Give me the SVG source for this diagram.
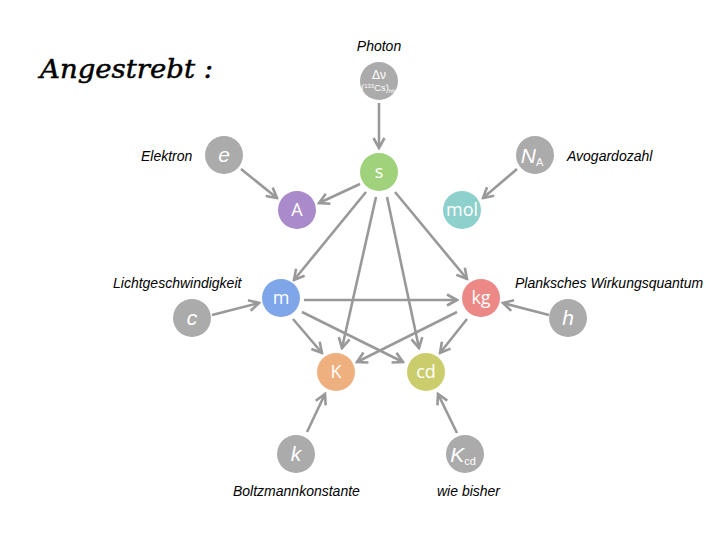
<svg xmlns="http://www.w3.org/2000/svg" width="720" height="540" viewBox="0 0 720 540">
<style>
.lbl{font-family:"Liberation Sans",Arial,sans-serif;font-style:italic;font-size:14px;fill:#000}
.nl{font-family:"Open Sans","Liberation Sans",sans-serif;font-size:18px;fill:#fff;text-anchor:middle}
.gl{font-family:"Liberation Sans",sans-serif;font-style:italic;font-size:21px;fill:#fff;text-anchor:middle}
.g{fill:#ababab}
.e{stroke:#999;stroke-width:2.6;fill:none;marker-end:url(#ah)}
</style>
<defs>
<marker id="ah" markerUnits="userSpaceOnUse" viewBox="0 0 14 14" markerWidth="14" markerHeight="14" refX="12" refY="7" orient="auto">
<path d="M2,1.5 L12,7 L2,12.5" fill="none" stroke="#999" stroke-width="2.6" stroke-linejoin="miter"/>
</marker>
</defs>
<rect width="720" height="540" fill="#fff"/>
<text x="40" y="78" font-family="'DejaVu Serif','Liberation Serif',serif" font-style="italic" font-size="26" stroke="#000" stroke-width="0.5" textLength="173" lengthAdjust="spacingAndGlyphs">Angestrebt :</text>
<g id="connectors">
<line class="e" x1="379" y1="103" x2="379" y2="148"/>
<line class="e" x1="241" y1="169" x2="277" y2="198"/>
<line class="e" x1="517" y1="169" x2="483" y2="198"/>
<line class="e" x1="360" y1="184" x2="319" y2="203"/>
<line class="e" x1="366" y1="192" x2="294" y2="280"/>
<line class="e" x1="376" y1="197" x2="342" y2="348"/>
<line class="e" x1="387" y1="197" x2="419" y2="348"/>
<line class="e" x1="395" y1="192" x2="467" y2="279"/>
<line class="e" x1="304" y1="300" x2="457" y2="300"/>
<line class="e" x1="293" y1="319" x2="322" y2="353"/>
<line class="e" x1="302" y1="312" x2="403" y2="362"/>
<line class="e" x1="457" y1="312" x2="357" y2="362"/>
<line class="e" x1="467" y1="319" x2="440" y2="353"/>
<line class="e" x1="212" y1="315" x2="259" y2="303"/>
<line class="e" x1="549" y1="315" x2="503" y2="303"/>
<line class="e" x1="307" y1="432" x2="325" y2="394"/>
<line class="e" x1="457" y1="433" x2="438" y2="394"/>
</g>
<g id="photon">
<circle class="g" cx="379" cy="81" r="19"/>
<text x="379" y="79" font-family="'Liberation Sans',sans-serif" font-size="12" fill="#fff" text-anchor="middle">Δν</text>
<text x="379" y="91" font-family="'Liberation Sans',sans-serif" font-size="9.5" fill="#fff" text-anchor="middle">(<tspan font-size="6" dy="-3">133</tspan><tspan dy="3">Cs)</tspan><tspan font-size="6" dy="2">hfs</tspan></text>
<text class="lbl" x="379" y="51" text-anchor="middle">Photon</text>
</g>
<g id="s"><circle cx="379" cy="172" r="19" fill="#9fd27a"/><text class="nl" x="379" y="178">s</text></g>
<g id="A"><circle cx="297" cy="210" r="19" fill="#aa8acb"/><text class="nl" x="297" y="216">A</text></g>
<g id="mol"><circle cx="462" cy="210" r="19" fill="#8ed0cb"/><text class="nl" x="462" y="216">mol</text></g>
<g id="m"><circle cx="281" cy="298" r="19" fill="#7fa6e9"/><text class="nl" x="281" y="304">m</text></g>
<g id="kg"><circle cx="481" cy="298" r="19" fill="#ec8886"/><text class="nl" x="481" y="304">kg</text></g>
<g id="K"><circle cx="336" cy="372" r="19" fill="#eeb07f"/><text class="nl" x="336" y="378">K</text></g>
<g id="cd"><circle cx="426" cy="372" r="19" fill="#cbcd6c"/><text class="nl" x="426" y="378">cd</text></g>
<g id="e"><circle class="g" cx="224" cy="155" r="19"/><text class="gl" x="224" y="162">e</text><text class="lbl" x="141" y="161">Elektron</text></g>
<g id="NA"><circle class="g" cx="535" cy="155" r="19"/><text class="gl" x="532" y="163">N<tspan font-size="11" font-style="normal" dy="3">A</tspan></text><text class="lbl" x="567" y="161">Avogardozahl</text></g>
<g id="c"><circle class="g" cx="192" cy="318" r="19"/><text class="gl" x="192" y="325">c</text><text class="lbl" x="113" y="288">Lichtgeschwindigkeit</text></g>
<g id="h"><circle class="g" cx="568" cy="318" r="19"/><text class="gl" x="568" y="325">h</text><text class="lbl" x="515" y="288">Planksches Wirkungsquantum</text></g>
<g id="k"><circle class="g" cx="296" cy="454" r="19"/><text class="gl" x="296" y="461">k</text><text class="lbl" x="233" y="496">Boltzmannkonstante</text></g>
<g id="Kcd"><circle class="g" cx="465" cy="454" r="19"/><text class="gl" x="463" y="462">K<tspan font-size="11" font-style="normal" dy="3">cd</tspan></text><text class="lbl" x="437" y="496">wie bisher</text></g>
</svg>
